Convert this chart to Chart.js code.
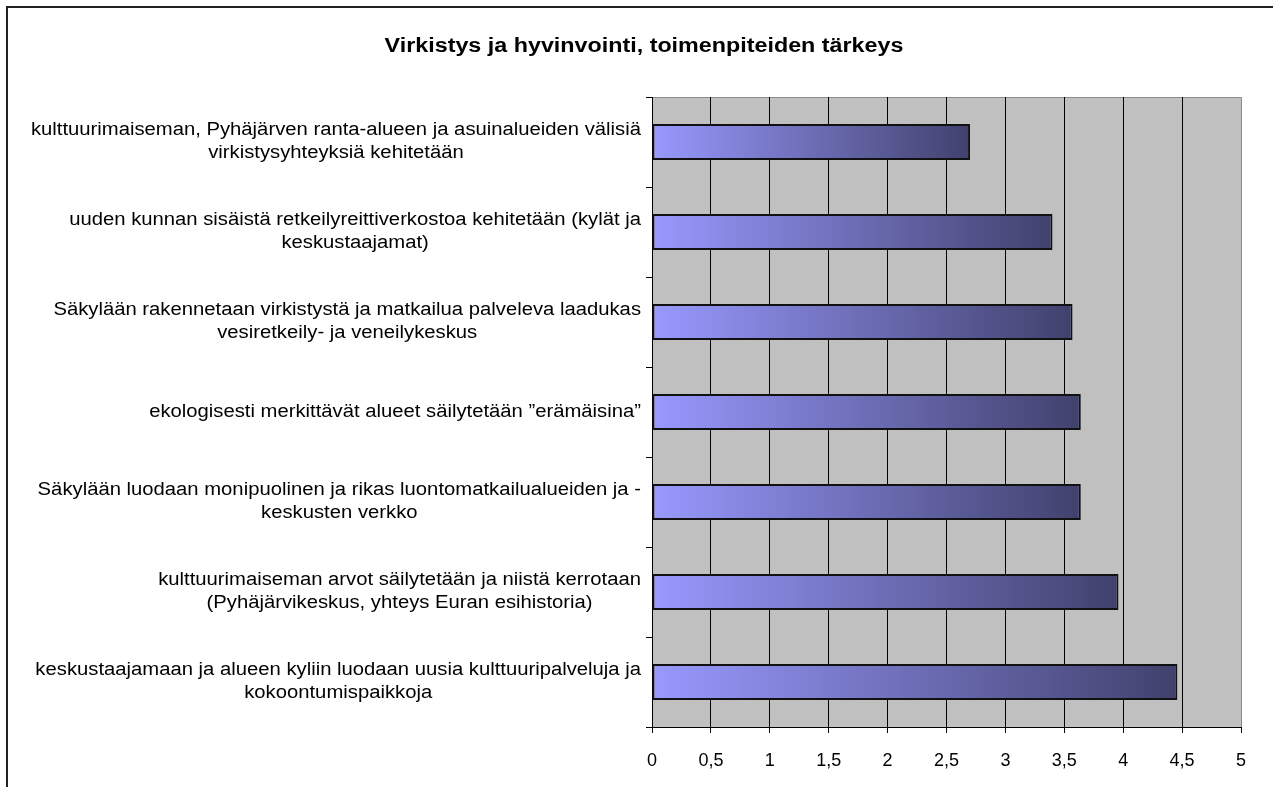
<!DOCTYPE html>
<html>
<head>
<meta charset="utf-8">
<script src="https://cdn.jsdelivr.net/npm/chart.js@4"></script>
<style>
  body { margin: 0; background: #fff; }
  canvas { display: block; }
</style>
</head>
<body>
<canvas id="myChart" width="1273" height="787"></canvas>
<script>
// chart data
var chartTitle = "Virkistys ja hyvinvointi, toimenpiteiden tärkeys";
var categories = [
  ["kulttuurimaiseman, Pyhäjärven ranta-alueen ja asuinalueiden välisiä", "virkistysyhteyksiä kehitetään"],
  ["uuden kunnan sisäistä retkeilyreittiverkostoa kehitetään (kylät ja", "keskustaajamat)"],
  ["Säkylään rakennetaan virkistystä ja matkailua palveleva laadukas", "vesiretkeily- ja veneilykeskus"],
  ["ekologisesti merkittävät alueet säilytetään ”erämäisina”"],
  ["Säkylään luodaan monipuolinen ja rikas luontomatkailualueiden ja -", "keskusten verkko"],
  ["kulttuurimaiseman arvot säilytetään ja niistä kerrotaan", "(Pyhäjärvikeskus, yhteys Euran esihistoria)"],
  ["keskustaajamaan ja alueen kyliin luodaan uusia kulttuuripalveluja ja", "kokoontumispaikkoja"]
];
var values = [2.70, 3.40, 3.57, 3.64, 3.64, 3.96, 4.46];
var xMin = 0;
var xMax = 5;
var xStep = 0.5;

var FONT = '"Liberation Sans", Arial, sans-serif';
var STRETCH = 1.125; // the text in the picture is drawn a bit wide

// page frame, grey plot background, title and the category labels
var decorPlugin = {
  id: "decor",
  beforeDraw: function (chart) {
    var ctx = chart.ctx;
    var a = chart.chartArea;
    ctx.save();
    ctx.fillStyle = "#fff";
    ctx.fillRect(0, 0, chart.width, chart.height);
    ctx.fillStyle = "#222";
    ctx.fillRect(6, 6, chart.width - 6, 2);
    ctx.fillRect(6, 6, 2, chart.height - 6);
    ctx.fillStyle = "#c0c0c0";
    ctx.fillRect(a.left, a.top, a.right - a.left, a.bottom - a.top);
    ctx.strokeStyle = "#8c8c8c";
    ctx.lineWidth = 1;
    ctx.beginPath();
    ctx.moveTo(a.left, a.top + 0.5);
    ctx.lineTo(a.right + 0.5, a.top + 0.5);
    ctx.lineTo(a.right + 0.5, a.bottom);
    ctx.stroke();
    ctx.restore();
  },
  afterDraw: function (chart) {
    var ctx = chart.ctx;
    var yScale = chart.scales.y;
    ctx.save();
    ctx.fillStyle = "#000";
    ctx.textAlign = "center";
    ctx.textBaseline = "middle";

    // title
    ctx.font = "bold 20px " + FONT;
    ctx.translate(644, 46);
    ctx.scale(1.165, 1);
    ctx.fillText(chartTitle, 0, 0);
    ctx.setTransform(1, 0, 0, 1, 0, 0);

    // category labels: block right aligned, lines centered in the block
    ctx.font = "18px " + FONT;
    var lineH = 23;
    var rightEdge = 641;
    categories.forEach(function (lines, i) {
      var y = yScale.getPixelForTick(i);
      var w = 0;
      lines.forEach(function (l) {
        w = Math.max(w, ctx.measureText(l).width * STRETCH);
      });
      var cx = rightEdge - w / 2;
      lines.forEach(function (l, j) {
        var ly = y + (j - (lines.length - 1) / 2) * lineH;
        ctx.save();
        ctx.translate(cx, ly);
        ctx.scale(STRETCH, 1);
        ctx.fillText(l, 0, 0);
        ctx.restore();
      });
    });
    ctx.restore();
  }
};

var canvas = document.getElementById("myChart");
var ctx = canvas.getContext("2d");

var myChart = new Chart(ctx, {
  type: "bar",
  data: {
    labels: categories,
    datasets: [
      {
        data: values,
        backgroundColor: function (c) {
          var chart = c.chart;
          if (!chart.chartArea || c.raw == null) return "#9999ff";
          var x0 = chart.scales.x.getPixelForValue(0);
          var x1 = chart.scales.x.getPixelForValue(c.raw);
          var g = chart.ctx.createLinearGradient(x0, 0, x1, 0);
          g.addColorStop(0, "#9999ff");
          g.addColorStop(1, "#41416d");
          return g;
        },
        borderColor: "#111",
        borderWidth: 2,
        borderSkipped: false,
        categoryPercentage: 1,
        barPercentage: 0.4
      }
    ]
  },
  options: {
    indexAxis: "y",
    responsive: false,
    animation: false,
    devicePixelRatio: 1,
    layout: { padding: { left: 0, right: 32, top: 97, bottom: 0 } },
    plugins: {
      legend: { display: false },
      title: { display: false },
      tooltip: { enabled: false }
    },
    scales: {
      x: {
        min: xMin,
        max: xMax,
        afterFit: function (scale) { scale.height = 60; },
        ticks: {
          stepSize: xStep,
          color: "#000",
          font: { family: FONT, size: 18 },
          padding: 17,
          maxRotation: 0,
          callback: function (v) { return String(v).replace(".", ","); }
        },
        grid: {
          color: function (c) {
            return c.tick && c.tick.value === xMax ? "#8c8c8c" : "#000";
          },
          tickColor: "#000",
          tickLength: 6,
          lineWidth: 1
        },
        border: { color: "#000", width: 1 }
      },
      y: {
        afterFit: function (scale) { scale.width = 652; },
        ticks: { display: false },
        grid: {
          drawOnChartArea: false,
          drawTicks: true,
          tickLength: 6,
          color: "#000",
          offset: true
        },
        border: { color: "#000", width: 1 }
      }
    }
  },
  plugins: [decorPlugin]
});
</script>
</body>
</html>
